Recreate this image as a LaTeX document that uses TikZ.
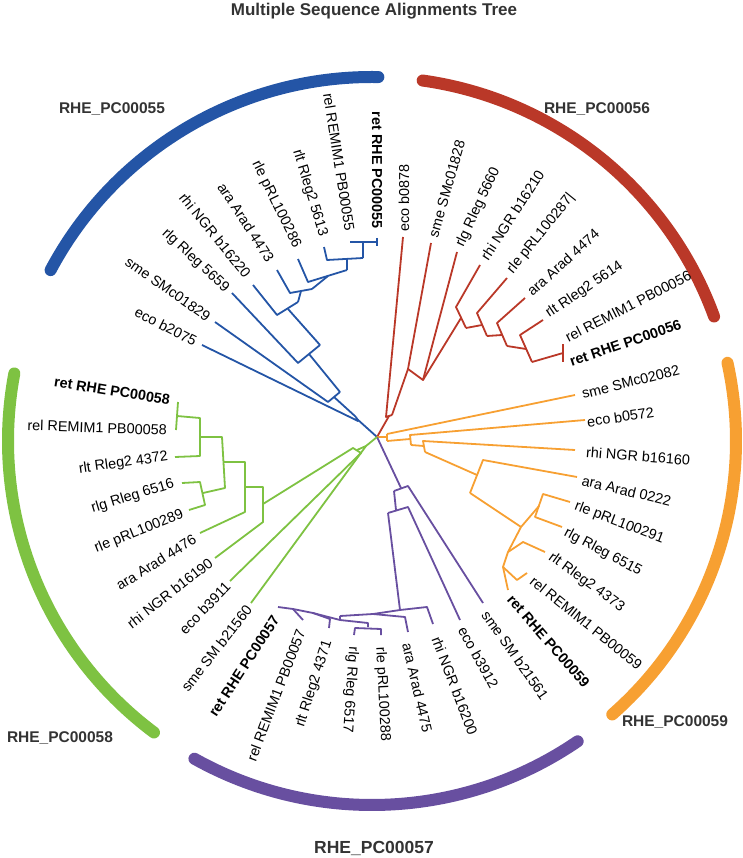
\documentclass[tikz,border=0pt]{standalone}
\usepackage{fontspec}
\setmainfont{Liberation Sans}
\definecolor{cblue}{RGB}{36,85,166}
\definecolor{cred}{RGB}{186,56,40}
\definecolor{corange}{RGB}{247,160,50}
\definecolor{cpurple}{RGB}{104,79,160}
\definecolor{cgreen}{RGB}{126,194,66}
\definecolor{ctext}{RGB}{51,51,51}

\begin{document}
\begin{tikzpicture}[x=1pt, y=-1pt,
    leaf/.style={font=\fontsize{14.4}{16}\selectfont, inner sep=0pt, text=black},
    leafL/.style={leaf, anchor=east},
    leafR/.style={leaf, anchor=west},
    retleaf/.style={font=\bfseries\fontsize{14.4}{16}\selectfont},
    clade/.style={font=\bfseries\fontsize{15.5}{18}\selectfont, text=ctext},
    br/.style={line width=1.8pt, line join=round},
    ring/.style={line width=12pt, line cap=round}]
\useasboundingbox (0,0) rectangle (742,858);

% title and circle centre
\node[font=\bfseries\fontsize{17}{20}\selectfont, text=ctext] (title) at (374,11) {Multiple Sequence Alignments Tree};
\coordinate (ctr) at (372,441);
\coordinate (root) at (377,437);

% outer rings
\draw[ring, cblue] ([shift={(-89:364)}]ctr) arc[start angle=-89, end angle=-152, radius=364];
\draw[ring, cred] ([shift={(-82:364)}]ctr) arc[start angle=-82, end angle=-20, radius=364];
\draw[ring, corange] ([shift={(-12.4:364)}]ctr) arc[start angle=-12.4, end angle=48.7, radius=364];
\draw[ring, cpurple] ([shift={(55.6:364)}]ctr) arc[start angle=55.6, end angle=119.2, radius=364];
\draw[ring, cgreen] ([shift={(126.8:364)}]ctr) arc[start angle=126.8, end angle=190.7, radius=364];

\node[clade] (g55) at (112,109) {RHE\_PC00055};
\node[clade] (g56) at (597,109) {RHE\_PC00056};
\node[clade] (g59) at (675,722) {RHE\_PC00059};
\node[clade] (g58) at (60,738) {RHE\_PC00058};
\node[clade, font=\bfseries\fontsize{17.5}{20}\selectfont] (g57) at (374,848) {RHE\_PC00057};

% blue clade
\coordinate (b1) at (377,242); \coordinate (b2) at (350,242);
\coordinate (b3) at (324,247); \coordinate (b4) at (298,259);
\coordinate (b5) at (277,270); \coordinate (b6) at (253,285);
\coordinate (b7) at (232,293); \coordinate (b8) at (215,322);
\coordinate (b9) at (202,345);
\coordinate (bA) at (363,242);
\coordinate (bB1) at (327,260); \coordinate (bB2) at (363,258); \coordinate (bB) at (347,259);
\coordinate (bC1) at (308,282); \coordinate (bC2) at (347,270); \coordinate (bC) at (328,276);
\coordinate (bD1) at (290,293); \coordinate (bD2) at (312,289); \coordinate (bD) at (301,291);
\coordinate (bE1) at (277,315); \coordinate (bE2) at (298,302); \coordinate (bE) at (288,309);
\coordinate (bF1) at (298,363); \coordinate (bF2) at (320,345); \coordinate (bF) at (309,354);
\coordinate (bG1) at (328,402); \coordinate (bG2) at (340,392); \coordinate (bG) at (334,397);
\coordinate (bH1) at (358,421); \coordinate (bH2) at (356,417); \coordinate (bH) at (357,419);
\begin{scope}[br, cblue]
  \draw (b2) -- (b1);
  \draw (377,238) -- (377,246);
  \draw (bA) -- (bB2);
  \draw (b3) -- (bB1) -- (bB2);
  \draw (bB) -- (bC2);
  \draw (b4) -- (bC1) -- (bC2);
  \draw (bC) -- (bD2);
  \draw (b5) -- (bD1) -- (bD2);
  \draw (bD) -- (bE2);
  \draw (b6) -- (bE1) -- (bE2);
  \draw (bE) -- (bF2);
  \draw (b7) -- (bF1) -- (bF2);
  \draw (bF) -- (bG2);
  \draw (b8) -- (bG1) -- (bG2);
  \draw (bG) -- (bH2);
  \draw (b9) -- (bH1) -- (bH2);
  \draw (bH) -- (root);
\end{scope}
\node[leafL, retleaf, rotate=-90] (lb1) at (377,229) {ret RHE PC00055};
\node[leafL, rotate=-81] (lb2) at (350,231) {rel REMIM1 PB00055};
\node[leafL, rotate=-73] (lb3) at (323,236) {rlt Rleg2 5613};
\node[leafL, rotate=-64] (lb4) at (297,247) {rle pRL100286};
\node[leafL, rotate=-57] (lb5) at (271,261) {ara Arad 4473};
\node[leafL, rotate=-51] (lb6) at (248,276) {rhi NGR b16220};
\node[leafL, rotate=-43] (lb7) at (227,290) {rlg Rleg 5659};
\node[leafL, rotate=-35] (lb8) at (209,318) {sme SMc01829};
\node[leafL, rotate=-27] (lb9) at (196,342) {eco b2075};

% red clade
\coordinate (r1) at (403,237); \coordinate (r2) at (431,243);
\coordinate (r3) at (457,252); \coordinate (r4) at (480,265);
\coordinate (r5) at (507,278); \coordinate (r6) at (525,298);
\coordinate (r7) at (543,320); \coordinate (r8) at (563,344);
\coordinate (r9) at (563,362);
\coordinate (rA) at (563,353);
\coordinate (rB1) at (520,335); \coordinate (rB2) at (532,362); \coordinate (rB) at (526,349);
\coordinate (rC1) at (497,323); \coordinate (rC2) at (507,346); \coordinate (rC) at (502,335);
\coordinate (rD1) at (477,313); \coordinate (rD2) at (487,336); \coordinate (rD) at (482,325);
\coordinate (rE1) at (456,307); \coordinate (rE2) at (466,328); \coordinate (rE) at (461,318);
\coordinate (rF) at (423,380); \coordinate (rG) at (408,369);
\coordinate (rH1) at (386,417); \coordinate (rH2) at (392,415); \coordinate (rH) at (389,416);
\begin{scope}[br, cred]
  \draw (r8) -- (r9);
  \draw (rB2) -- (rA);
  \draw (r7) -- (rB1) -- (rB2);
  \draw (rC2) -- (rB);
  \draw (r6) -- (rC1) -- (rC2);
  \draw (rD2) -- (rC);
  \draw (r5) -- (rD1) -- (rD2);
  \draw (rE2) -- (rD);
  \draw (r4) -- (rE1) -- (rE2);
  \draw (rE) -- (rF);
  \draw (r3) -- (rF) -- (rG);
  \draw (r2) -- (rG) -- (rH2);
  \draw (r1) -- (rH1) -- (rH2);
  \draw (rH) -- (root);
\end{scope}
\node[leafR, rotate=90] (lr1) at (404,232) {eco b0878};
\node[leafR, rotate=74] (lr2) at (433,237) {sme SMc01828};
\node[leafR, rotate=65] (lr3) at (460,246) {rlg Rleg 5660};
\node[leafR, rotate=57] (lr4) at (484,259) {rhi NGR b16210};
\node[leafR, rotate=51] (lr5) at (510,272) {rle pRL100287|};
\node[leafR, rotate=42] (lr6) at (529,293) {ara Arad 4474};
\node[leafR, rotate=34] (lr7) at (547,315) {rlt Rleg2 5614};
\node[leafR, rotate=27] (lr8) at (566,338) {rel REMIM1 PB00056};
\node[leafR, retleaf, rotate=19] (lr9) at (570,362) {ret RHE PC00056};

% orange clade
\coordinate (o1) at (575,395); \coordinate (o2) at (585,420);
\coordinate (o3) at (575,450); \coordinate (o4) at (577,477);
\coordinate (o5) at (570,502); \coordinate (o6) at (562,527);
\coordinate (o7) at (545,552); \coordinate (o8) at (527,573);
\coordinate (o9) at (508,590);
\coordinate (oR) at (387,437);
\coordinate (oA1) at (387,434); \coordinate (oA2) at (387,441);
\coordinate (oB1) at (410,435); \coordinate (oB2) at (411,445); \coordinate (oB) at (410,439);
\coordinate (oC1) at (423,441); \coordinate (oC2) at (425,452); \coordinate (oC) at (424,446);
\coordinate (oD1) at (483,460); \coordinate (oD2) at (470,493); \coordinate (oD) at (477,475);
\coordinate (oE) at (521,527); \coordinate (oE2) at (508,552);
\coordinate (oF1) at (543,494); \coordinate (oF2) at (535,517); \coordinate (oF) at (539,506);
\coordinate (oG) at (523,542); \coordinate (oH) at (503,567); \coordinate (oI) at (517,580);
\begin{scope}[br, corange]
  \draw (root) -- (oR);
  \draw (oA1) -- (oA2);
  \draw (o1) -- (oA1);
  \draw (oA2) -- (oB);
  \draw (o2) -- (oB1) -- (oB2);
  \draw (oB2) -- (oC);
  \draw (o3) -- (oC1) -- (oC2);
  \draw (oC2) -- (oD);
  \draw (o4) -- (oD1) -- (oD2);
  \draw (oD2) -- (oE);
  \draw (oE) -- (oF);
  \draw (o5) -- (oF1) -- (oF2) -- (o6);
  \draw (oE) -- (oE2) -- (oH);
  \draw (oE2) -- (oG) -- (o7);
  \draw (oH) -- (o9);
  \draw (oH) -- (oI) -- (o8);
\end{scope}
\node[leafR, rotate=14] (lo1) at (582,394) {sme SMc02082};
\node[leafR, rotate=8.5] (lo2) at (587,422) {eco b0572};
\node[leafR, rotate=-4.5] (lo3) at (586,452) {rhi NGR b16160};
\node[leafR, rotate=-13.5] (lo4) at (582,480) {ara Arad 0222};
\node[leafR, rotate=-21] (lo5) at (575,506) {rle pRL100291};
\node[leafR, rotate=-28] (lo6) at (565,532) {rlg Rleg 6515};
\node[leafR, rotate=-36] (lo7) at (550,556) {rlt Rleg2 4373};
\node[leafR, rotate=-39] (lo8) at (532,579) {rel REMIM1 PB00059};
\node[leafR, retleaf, rotate=-49] (lo9) at (510,597) {ret RHE PC00059};

% purple clade
\coordinate (p1) at (278,607); \coordinate (p2) at (303,620);
\coordinate (p3) at (329,628); \coordinate (p4) at (354,635);
\coordinate (p5) at (381,635); \coordinate (p6) at (408,632);
\coordinate (p7) at (433,624); \coordinate (p8) at (460,620);
\coordinate (p9) at (483,603);
\coordinate (pA) at (401,488); \coordinate (pA1) at (394,491); \coordinate (pA2) at (408,486);
\coordinate (pB1) at (388,513); \coordinate (pB2) at (408,507); \coordinate (pB) at (396,510);
\coordinate (pC1) at (373,614); \coordinate (pC) at (400,610); \coordinate (pC2) at (427,607);
\coordinate (pD1) at (340,616); \coordinate (pD2) at (405,617);
\coordinate (pE0) at (340,620); \coordinate (pE1) at (313,613); \coordinate (pE2) at (368,623);
\coordinate (pF0) at (368,627); \coordinate (pF1) at (355,628); \coordinate (pF2) at (381,629);
\coordinate (pG1) at (293,609); \coordinate (pG2) at (330,619);
\begin{scope}[br, cpurple]
  \draw (root) -- (pA);
  \draw (pA1) -- (pA2) -- (p9);
  \draw (pA1) -- (pB);
  \draw (pB1) -- (pB2) -- (p8);
  \draw (pB1) -- (pC);
  \draw (pC1) -- (pC) -- (pC2) -- (p7);
  \draw (pD1) -- (pC1) -- (pD2) -- (p6);
  \draw (pD1) -- (pE0);
  \draw (pE1) -- (pE0) -- (pE2) -- (pF0);
  \draw (p4) -- (pF1) -- (pF2) -- (p5);
  \draw (p1) -- (pG1) -- (pE1) -- (pG2) -- (p3);
  \draw (pG1) -- (p2);
\end{scope}
\node[leafL, retleaf, rotate=57] (lp1) at (276,617) {ret RHE PC00057};
\node[leafL, rotate=69] (lp2) at (301,630) {rel REMIM1 PB00057};
\node[leafL, rotate=72] (lp3) at (328,641) {rlt Rleg2 4371};
\node[leafR, rotate=-94] (lp4) at (353,647) {rlg Rleg 6517};
\node[leafR, rotate=-87] (lp5) at (380,647) {rle pRL100288};
\node[leafR, rotate=-77] (lp6) at (407,643) {ara Arad 4475};
\node[leafR, rotate=-69] (lp7) at (436,637) {rhi NGR b16200};
\node[leafR, rotate=-61] (lp8) at (462,628) {eco b3912};
\node[leafR, rotate=-55] (lp9) at (485,612) {sme SM b21561};

% green clade
\coordinate (q1) at (178,402); \coordinate (q2) at (176,430);
\coordinate (q3) at (175,457); \coordinate (q4) at (182,483);
\coordinate (q5) at (189,510); \coordinate (q6) at (200,533);
\coordinate (q7) at (215,558); \coordinate (q8) at (230,581);
\coordinate (q9) at (251,603);
\coordinate (qA) at (177,416); \coordinate (qA2) at (200,418);
\coordinate (qB1) at (200,456); \coordinate (qB) at (200,437); \coordinate (qB2) at (222,437);
\coordinate (qC1) at (200,482); \coordinate (qC2) at (205,505); \coordinate (qC) at (203,493);
\coordinate (qD1) at (225,488); \coordinate (qD) at (224,462); \coordinate (qD2) at (245,462);
\coordinate (qE1) at (245,512); \coordinate (qE) at (245,487); \coordinate (qE2) at (263,487);
\coordinate (qF1) at (263,522); \coordinate (qF) at (263,504);
\coordinate (qG1) at (353,448); \coordinate (qG2) at (361,453); \coordinate (qG) at (357,450);
\coordinate (qH) at (366,446);
\begin{scope}[br, cgreen]
  \draw (q1) -- (q2);
  \draw (qA) -- (qA2) -- (qB1) -- (q3);
  \draw (qB) -- (qB2) -- (qD1) -- (qC);
  \draw (q4) -- (qC1) -- (qC2) -- (q5);
  \draw (qD) -- (qD2) -- (qE1) -- (q6);
  \draw (qE) -- (qE2) -- (qF1) -- (q7);
  \draw (qF) -- (qG1) -- (qG2) -- (q8);
  \draw (qG) -- (qH) -- (root);
  \draw (qH) -- (q9);
\end{scope}
\node[leafL, retleaf, rotate=-9] (lq1) at (170,400) {ret RHE PC00058};
\node[leafL, rotate=-2] (lq2) at (167,430) {rel REMIM1 PB00058};
\node[leafL, rotate=8] (lq3) at (168,457) {rlt Rleg2 4372};
\node[leafL, rotate=17] (lq4) at (174,484) {rlg Rleg 6516};
\node[leafL, rotate=22] (lq5) at (183,514) {rle pRL100289};
\node[leafL, rotate=32] (lq6) at (195,538) {ara Arad 4476};
\node[leafL, rotate=38] (lq7) at (211,561) {rhi NGR b16190};
\node[leafL, rotate=46] (lq8) at (228,584) {eco b3911};
\node[leafL, rotate=52] (lq9) at (249,607) {sme SM b21560};
\end{tikzpicture}
\end{document}
